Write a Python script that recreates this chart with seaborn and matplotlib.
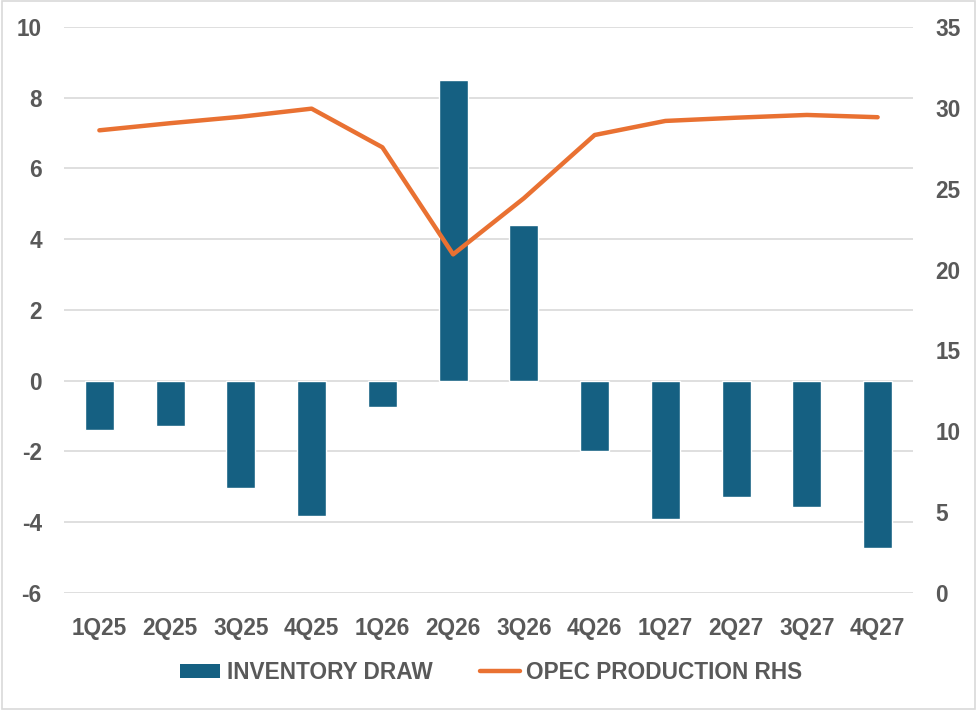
import numpy as np
import pandas as pd
import matplotlib
matplotlib.use("Agg")
import matplotlib.pyplot as plt
from matplotlib.patches import Patch
from matplotlib.lines import Line2D
import seaborn as sns

# data
quarters = ["1Q25", "2Q25", "3Q25", "4Q25", "1Q26", "2Q26",
            "3Q26", "4Q26", "1Q27", "2Q27", "3Q27", "4Q27"]
inventory_draw = [-1.39, -1.27, -3.02, -3.81, -0.73, 8.49,
                  4.41, -2.00, -3.90, -3.30, -3.56, -4.72]
opec_production = [28.61, 29.05, 29.45, 29.95, 27.56, 20.94,
                   24.41, 28.32, 29.19, 29.39, 29.56, 29.42]

BAR_COLOR = "#156082"
LINE_COLOR = "#E97132"
TEXT_COLOR = "#595959"
GRID_COLOR = "#D9D9D9"
FS = 16.3

sns.set_theme(style="white")
plt.rcParams["font.family"] = ["Liberation Sans", "DejaVu Sans"]
plt.rcParams["font.weight"] = "bold"
plt.rcParams["axes.unicode_minus"] = False

df = pd.DataFrame({"quarter": quarters,
                   "draw": inventory_draw,
                   "opec": opec_production})
df["pos"] = np.arange(len(df))

fig = plt.figure(figsize=(9.77, 7.10), dpi=100)
ax = fig.add_axes([0.0655, 0.1648, 0.869, 0.7972])

sns.barplot(data=df, x="quarter", y="draw", color=BAR_COLOR,
            width=0.41, saturation=1, ax=ax, zorder=2)
ax.set_ylim(-6, 10)
ax.set_yticks(np.arange(-6, 11, 2))
ax.set_xlim(-0.5, len(quarters) - 0.5)
ax.yaxis.grid(True, color=GRID_COLOR, linewidth=1.2, zorder=0)
ax.set_axisbelow(True)

ax2 = ax.twinx()
sns.lineplot(data=df, x="pos", y="opec", color=LINE_COLOR,
             linewidth=3.2, ax=ax2, zorder=3)
ax2.set_ylim(0, 35)
ax2.set_yticks(np.arange(0, 36, 5))
ax2.set_xlim(-0.5, len(quarters) - 0.5)

for a in (ax, ax2):
    a.set_xlabel("")
    a.set_ylabel("")
    for s in a.spines.values():
        s.set_visible(False)
    a.tick_params(length=0, labelsize=FS, labelcolor=TEXT_COLOR)
ax.tick_params(axis="y", pad=16)
ax.tick_params(axis="x", pad=17)
ax2.tick_params(axis="y", pad=16)
for lab in ax.get_xticklabels() + ax.get_yticklabels() + ax2.get_yticklabels():
    lab.set_fontweight("bold")

handles = [Patch(facecolor=BAR_COLOR, edgecolor="none"),
           Line2D([0], [0], color=LINE_COLOR, linewidth=3.2,
                  solid_capstyle="round")]
leg = fig.legend(handles, ["INVENTORY DRAW", "OPEC PRODUCTION RHS"],
                 loc="center", bbox_to_anchor=(0.503, 0.053), ncol=2,
                 frameon=False, fontsize=FS, handlelength=1.75,
                 handleheight=0.6, handletextpad=0.3, columnspacing=2.1)
for t in leg.get_texts():
    t.set_color(TEXT_COLOR)
    t.set_fontweight("bold")

fig.patches.append(plt.Rectangle((0.002, 0.002), 0.996, 0.996,
                                 transform=fig.transFigure, fill=False,
                                 edgecolor=GRID_COLOR, linewidth=1.2))

fig.savefig("out.png", dpi=100)
plt.close(fig)
